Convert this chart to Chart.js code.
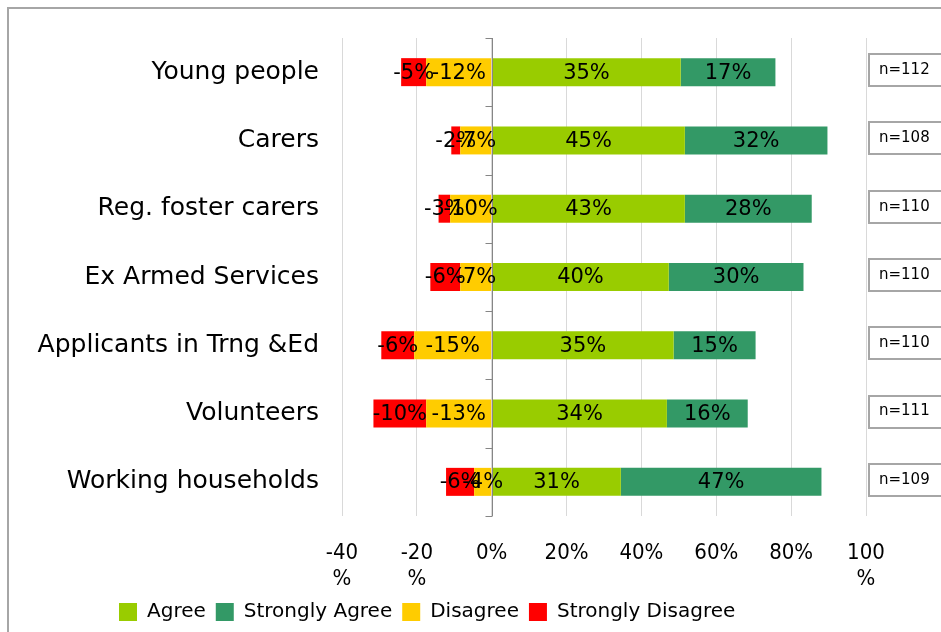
<!DOCTYPE html>
<html><head><meta charset="utf-8">
<script src="https://cdn.jsdelivr.net/npm/chart.js@4.4.1/dist/chart.umd.min.js"></script>
<style>html,body{margin:0;padding:0;background:#fff;overflow:hidden}#wrap{position:relative;width:941px;height:632px}</style>
</head><body><div id="wrap"><canvas id="c" width="941" height="632"></canvas></div>
<script>
const categories = ['Young people','Carers','Reg. foster carers','Ex Armed Services','Applicants in Trng &Ed','Volunteers','Working households'];
// bar lengths as drawn (percent on x axis)
const agreeBar = [50.5, 51.6, 51.6, 47.3, 48.6, 46.8, 34.5];
const strongAgreeBar = [25.3, 38.1, 33.9, 36.0, 21.9, 21.6, 53.6];
const disagreeBar = [-17.5, -8.4, -11.1, -8.4, -20.7, -17.5, -4.7];
const strongDisagreeBar = [-6.7, -2.4, -3.1, -8.0, -8.8, -14.1, -7.5];
// data label texts shown on the bars
const agreeLabels = [35, 45, 43, 40, 35, 34, 31];
const strongAgreeLabels = [17, 32, 28, 30, 15, 16, 47];
const disagreeLabels = [-12, -7, -10, -7, -15, -13, -4];
const strongDisagreeLabels = [-5, -2, -3, -6, -6, -10, -6];
const sampleSizes = ['n=112','n=108','n=110','n=110','n=110','n=111','n=109'];
const xTickLabels = [['-40','%'],['-20','%'],'0%','20%','40%','60%','80%',['100','%']];
const seriesNames = ['Agree','Strongly Agree','Disagree','Strongly Disagree'];
const seriesColors = ['#99cc00','#339966','#ffcc00','#ff0000'];

const barSets = [agreeBar, strongAgreeBar, disagreeBar, strongDisagreeBar];
const labelSets = [agreeLabels, strongAgreeLabels, disagreeLabels, strongDisagreeLabels];

const framePlugin = {
  id: 'frame',
  afterLayout(chart) {
    if (chart.legend) { chart.legend.left = 109; }
  },
  beforeDraw(chart) {
    const ctx = chart.ctx;
    ctx.save();
    ctx.fillStyle = '#fff';
    ctx.fillRect(0, 0, chart.width, chart.height);
    ctx.strokeStyle = '#a6a6a6';
    ctx.lineWidth = 2;
    ctx.beginPath();
    ctx.moveTo(8, chart.height + 5);
    ctx.lineTo(8, 8);
    ctx.lineTo(chart.width + 5, 8);
    ctx.stroke();
    ctx.restore();
  }
};

const zeroAxisPlugin = {
  id: 'zeroAxis',
  afterDatasetsDraw(chart) {
    const ctx = chart.ctx, xs = chart.scales.x, ca = chart.chartArea;
    const x0 = Math.round(xs.getPixelForValue(0)) + 0.5;
    ctx.save();
    ctx.strokeStyle = '#868686';
    ctx.lineWidth = 1;
    ctx.beginPath();
    ctx.moveTo(x0, ca.top);
    ctx.lineTo(x0, ca.bottom);
    const n = categories.length;
    for (let i = 0; i <= n; i++) {
      const y = Math.round(ca.top + i * (ca.bottom - ca.top) / n) + 0.5;
      ctx.moveTo(x0 - 7, y);
      ctx.lineTo(x0, y);
    }
    ctx.stroke();
    ctx.restore();
  }
};

const dataLabelPlugin = {
  id: 'dataLabels',
  afterDatasetsDraw(chart) {
    const ctx = chart.ctx;
    ctx.save();
    ctx.font = '21px "DejaVu Sans"';
    ctx.fillStyle = '#000';
    ctx.textAlign = 'center';
    ctx.textBaseline = 'middle';
    chart.data.datasets.forEach((ds, di) => {
      const meta = chart.getDatasetMeta(di);
      meta.data.forEach((el, i) => {
        const cx = (el.x + el.base) / 2;
        ctx.fillText(labelSets[di][i] + '%', cx, el.y + 1);
      });
    });
    ctx.restore();
  }
};

const sampleBoxPlugin = {
  id: 'sampleBoxes',
  afterDraw(chart) {
    const ctx = chart.ctx, ys = chart.scales.y;
    ctx.save();
    ctx.font = '15px "DejaVu Sans"';
    ctx.textBaseline = 'middle';
    ctx.textAlign = 'left';
    sampleSizes.forEach((s, i) => {
      const y = ys.getPixelForValue(i) - 2;
      const h = 32;
      ctx.fillStyle = '#fff';
      ctx.fillRect(868, y - h / 2, 120, h);
      ctx.strokeStyle = '#a6a6a6';
      ctx.lineWidth = 2;
      ctx.strokeRect(869, Math.round(y - h / 2), 120, h);
      ctx.fillStyle = '#000';
      ctx.fillText(s, 879, y);
    });
    ctx.restore();
  }
};

new Chart(document.getElementById('c'), {
  type: 'bar',
  data: {
    labels: categories,
    datasets: seriesNames.map((name, k) => ({
      label: name,
      data: barSets[k],
      backgroundColor: seriesColors[k],
      borderWidth: 0,
      categoryPercentage: 1,
      barPercentage: 0.41
    }))
  },
  options: {
    indexAxis: 'y',
    responsive: false,
    animation: false,
    layout: { padding: { left: 10, right: 75, top: 37, bottom: 0 } },
    plugins: {
      legend: {
        position: 'bottom',
        align: 'start',
        labels: {
          boxWidth: 18, boxHeight: 18, padding: 10,
          color: '#000',
          font: { family: '"DejaVu Sans"', size: 20 }
        }
      },
      tooltip: { enabled: false }
    },
    scales: {
      x: {
        stacked: true,
        min: -40, max: 100,
        ticks: {
          stepSize: 20,
          padding: 24,
          color: '#000',
          maxRotation: 0,
          autoSkip: false,
          font: { family: '"DejaVu Sans Condensed"', size: 22, lineHeight: 1.2 },
          callback: (v, idx) => xTickLabels[idx]
        },
        grid: { color: '#d9d9d9', lineWidth: 1, drawTicks: false },
        border: { display: false },
        afterFit: (s) => { s.height = 76; }
      },
      y: {
        stacked: true,
        ticks: {
          padding: 23,
          color: '#000',
          font: { family: '"DejaVu Sans"', size: 25 }
        },
        grid: { display: false, drawTicks: false },
        border: { display: false },
        afterFit: (s) => { s.width = 332; }
      }
    }
  },
  plugins: [framePlugin, zeroAxisPlugin, dataLabelPlugin, sampleBoxPlugin]
});
</script>
</body></html>
